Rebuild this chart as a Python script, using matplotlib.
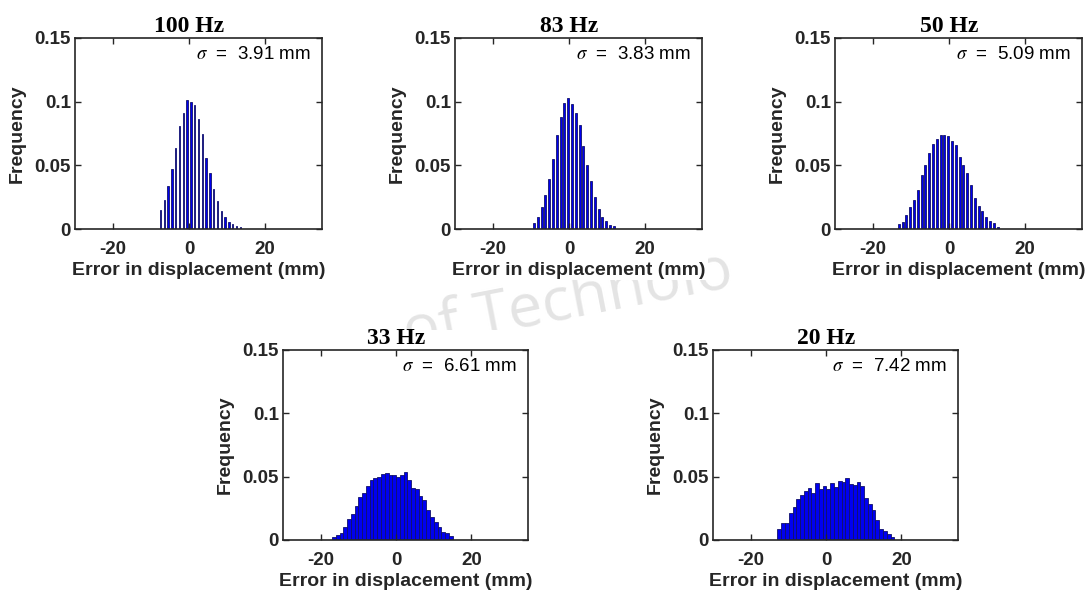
import matplotlib
matplotlib.use("Agg")
import matplotlib.pyplot as plt
from matplotlib.patches import Rectangle

plt.rcParams['font.family'] = ['Liberation Sans', 'DejaVu Sans']
plt.rcParams['mathtext.fontset'] = 'stix'
plt.rcParams['axes.unicode_minus'] = False

# ---- histogram data (normalised frequency per 1 mm bin) ----
hz100_centers = [-7.5, -6.5, -5.5, -4.5, -3.5, -2.5, -1.5, -0.5, 0.5, 1.5, 2.5,
                 3.5, 4.5, 5.5, 6.5, 7.5, 8.5, 9.5, 10.5, 11.5, 12.5, 13.5]
hz100_freq = [0.015, 0.023, 0.034, 0.047, 0.064, 0.081, 0.091, 0.101, 0.0997, 0.097, 0.086,
              0.075, 0.056, 0.044, 0.0316, 0.022, 0.0145, 0.0094, 0.0056, 0.0038, 0.0025, 0.0013]

hz83_centers = [-9.2, -8.2, -7.2, -6.2, -5.2, -4.2, -3.2, -2.2, -1.2, -0.2, 0.8,
                1.8, 2.8, 3.8, 4.8, 5.8, 6.8, 7.8, 8.8, 9.8, 10.8, 11.8]
hz83_freq = [0.0047, 0.0097, 0.0174, 0.027, 0.039, 0.055, 0.074, 0.0877, 0.0993, 0.1025, 0.0985,
             0.0913, 0.0813, 0.065, 0.050, 0.0375, 0.0253, 0.0157, 0.0096, 0.0062, 0.0035, 0.0021]

hz50_centers = [-13.2, -12.2, -11.2, -10.2, -9.2, -8.2, -7.2, -6.2, -5.2, -4.2, -3.2, -2.2,
                -1.2, -0.2, 0.8, 1.8, 2.8, 3.8, 4.8, 5.8, 6.8, 7.8, 8.8, 9.8, 10.8, 11.8, 12.8]
hz50_freq = [0.0038, 0.0058, 0.011, 0.017, 0.023, 0.031, 0.0425, 0.0505, 0.060, 0.0668, 0.0706,
             0.0738, 0.0742, 0.0728, 0.0693, 0.066, 0.0565, 0.0502, 0.0437, 0.0342, 0.0246,
             0.018, 0.014, 0.0095, 0.0064, 0.0046, 0.0018]

hz33_left = [-17, -16, -15, -14, -13, -12, -11, -10, -9, -8, -7, -6, -5, -4, -3, -2,
             -1, 0, 1, 2, 3, 4, 5, 6, 7, 8, 9, 10, 11, 12, 13, 14]
hz33_freq = [0.0026, 0.004, 0.0058, 0.010, 0.0166, 0.0206, 0.027, 0.034, 0.037, 0.043, 0.0475,
             0.0488, 0.050, 0.052, 0.053, 0.051, 0.0517, 0.050, 0.0517, 0.0533, 0.0475, 0.041,
             0.0406, 0.035, 0.0317, 0.0237, 0.0185, 0.0145, 0.0106, 0.0066, 0.0058, 0.0032]

hz20_left = [-12.9, -11.9, -10.9, -9.9, -8.9, -7.9, -6.9, -5.9, -4.9, -3.9, -2.9, -1.9,
             -0.9, 0.1, 1.1, 2.1, 3.1, 4.1, 5.1, 6.1, 7.1, 8.1, 9.1, 10.1, 11.1, 12.1,
             13.1, 14.1, 15.1, 16.1, 17.1]
hz20_freq = [0.009, 0.0135, 0.0137, 0.0214, 0.0264, 0.0325, 0.0356, 0.0383, 0.0412, 0.0375,
             0.045, 0.0406, 0.0427, 0.0404, 0.045, 0.0422, 0.0462, 0.0454, 0.049, 0.0441,
             0.0438, 0.0454, 0.043, 0.033, 0.0285, 0.0235, 0.0158, 0.009, 0.0074, 0.0047, 0.0026]

titles = ['100 Hz', '83 Hz', '50 Hz', '33 Hz', '20 Hz']
sigmas = ['3.91', '3.83', '5.09', '6.61', '7.42']
x_ticks = [-20, 0, 20]
y_ticks = [0, 0.05, 0.1, 0.15]
y_tick_labels = ['0', '0.05', '0.1', '0.15']

W, H = 1092, 591
fig = plt.figure(figsize=(W / 100, H / 100), dpi=100)

# faint background lettering
fig.text(0.52, 0.49, 'of Technolo', fontsize=44, family='Open Sans', color='#e4e4e4',
         rotation=11, ha='center', va='center', zorder=-3)

# axes boxes in pixels: left, top, width, height
boxes = [(75, 38, 247, 191), (455, 38, 247, 191), (835, 38, 247, 191),
         (283, 350, 245, 190), (713, 350, 245, 190)]
# extra white margin to the right of each panel
panel_right = [31, 6, 12, 10, 10]

series = [
    (hz100_centers, hz100_freq, 0.38, 'center'),
    (hz83_centers, hz83_freq, 0.55, 'center'),
    (hz50_centers, hz50_freq, 0.55, 'center'),
    (hz33_left, hz33_freq, 1.0, 'edge'),
    (hz20_left, hz20_freq, 1.0, 'edge'),
]

xmin, xmax = -30, 35
dark = '#262626'
for (l, t, w, h), pr, (xs, fs, bw, al), title, sig in zip(boxes, panel_right, series,
                                                           titles, sigmas):
    # white panel behind each subplot and its labels
    fig.patches.append(Rectangle(((l - 72) / W, (H - t - h - 51) / H), (w + 72 + pr) / W,
                                 (h + 71) / H, transform=fig.transFigure,
                                 facecolor='white', edgecolor='none', zorder=-2))
    ax = fig.add_axes([l / W, (H - t - h) / H, w / W, h / H])
    ax.bar(xs, fs, width=bw, align=al, color='#0000f0',
           edgecolor='#10106a', linewidth=0.6)
    ax.set_xlim(xmin, xmax)
    ax.set_ylim(0, 0.15)
    ax.set_xticks(x_ticks)
    ax.set_yticks(y_ticks)
    ax.set_yticklabels(y_tick_labels)
    ax.tick_params(direction='in', top=True, right=True, length=4, width=1,
                   color=dark, labelcolor=dark, labelsize=13.5)
    ax.tick_params(axis='x', pad=8.5)
    ax.tick_params(axis='y', pad=3)
    for lab in ax.get_xticklabels() + ax.get_yticklabels():
        lab.set_fontweight('bold')
    for sp in ax.spines.values():
        sp.set_color(dark)
        sp.set_linewidth(1.2)
    ax.set_xlabel('Error in displacement (mm)', fontsize=14, fontweight='bold', color=dark)
    ax.set_ylabel('Frequency', fontsize=14, fontweight='bold', color=dark)
    ax.xaxis.set_label_coords(0.5, -0.175)
    ax.yaxis.set_label_coords(-0.2, 0.5)
    # title sits above the zero of the error axis
    ax.set_title(title, fontsize=17, fontweight='bold', family='Liberation Serif',
                 pad=4, color='black', x=(0 - xmin) / (xmax - xmin))
    ax.text(0.955, 0.915, r'$\sigma$  =  ' + sig + ' mm', transform=ax.transAxes,
            ha='right', va='center', fontsize=13.5, color='black')

fig.savefig('out.png', dpi=100)
